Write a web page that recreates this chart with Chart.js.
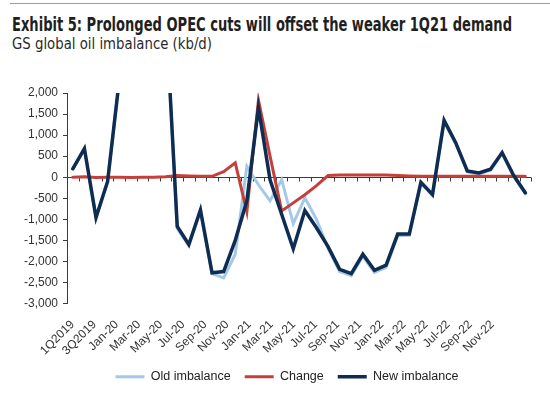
<!DOCTYPE html>
<html>
<head>
<meta charset="utf-8">
<script src="https://cdn.jsdelivr.net/npm/chart.js@4.4.1/dist/chart.umd.min.js"></script>
<style>
  html, body { margin: 0; padding: 0; background: #fff; }
  #wrap { position: relative; width: 550px; height: 396px; overflow: hidden; background: #fff; }
  #rule { position: absolute; left: 10px; top: 3px; width: 540px; height: 1px; background: #9a9a9a; }
  .ttl { position: absolute; left: 12px; white-space: nowrap; transform-origin: 0 0; display: inline-block; line-height: 1; }
  #title { top: 16px; font-family: "Liberation Sans Narrow", "Arial Narrow", "DejaVu Sans Condensed", "Liberation Sans", sans-serif; font-weight: bold; font-size: 18.6px; color: #1f1f1f; }
  #subtitle { top: 36px; font-family: "Liberation Sans Narrow", "Arial Narrow", "DejaVu Sans Condensed", "Liberation Sans", sans-serif; font-size: 16.3px; color: #2a2a2a; }
  canvas { position: absolute; left: 0; top: 0; }
</style>
</head>
<body>
<div id="wrap">
  <div id="rule"></div>
  <div id="title" class="ttl">Exhibit 5: Prolonged OPEC cuts will offset the weaker 1Q21 demand</div>
  <div id="subtitle" class="ttl">GS global oil imbalance (kb/d)</div>
  <canvas id="c" width="550" height="396"></canvas>
</div>
<script>
// ---- data ----
const categories = [
  '1Q2019','2Q2019','3Q2019','4Q2019',
  'Jan-20','Feb-20','Mar-20','Apr-20','May-20','Jun-20','Jul-20','Aug-20','Sep-20','Oct-20','Nov-20','Dec-20',
  'Jan-21','Feb-21','Mar-21','Apr-21','May-21','Jun-21','Jul-21','Aug-21','Sep-21','Oct-21','Nov-21','Dec-21',
  'Jan-22','Feb-22','Mar-22','Apr-22','May-22','Jun-22','Jul-22','Aug-22','Sep-22','Oct-22','Nov-22','Dec-22'
];
// tick labels as printed under the axis (every other category; two trailing blank slots)
const xTickLabels = [
  '1Q2019','','3Q2019','',
  'Jan-20','','Mar-20','','May-20','','Jul-20','','Sep-20','','Nov-20','',
  'Jan-21','','Mar-21','','May-21','','Jul-21','','Sep-21','','Nov-21','',
  'Jan-22','','Mar-22','','May-22','','Jul-22','','Sep-22','','Nov-22','','',''
];
const oldImbalance = [
  200, 670, -950, -100,
  2300, 4500, 9000, 14000, 3990, -1210, -1630, -800, -2290, -2390, -1830, 260,
  -180, -560, -60, -1100, -490, -1000, -1690, -2240, -2340, -1880, -2260, -2140,
  -1390, -1380, -145, -435, 1325, 795, 125, 75, 165, 560, 15, -395
];
const change = [
  0, 10, -10, 0,
  0, -10, 0, 0, 10, 40, 30, 20, 20, 130, 340, -820,
  1830, 500, -800, -610, -415, -200, 40, 50, 50, 50, 50, 50,
  40, 30, 25, 25, 25, 25, 25, 25, 25, 25, 25, 25
];
const newImbalance = [
  200, 680, -960, -100,
  2300, 4500, 9000, 14000, 4000, -1170, -1600, -780, -2270, -2240, -1500, -560,
  1650, -60, -880, -1700, -790, -1200, -1650, -2190, -2290, -1830, -2210, -2090,
  -1350, -1350, -120, -410, 1350, 820, 150, 100, 190, 585, 40, -370
];
const yTicks = [2000, 1500, 1000, 500, 0, -500, -1000, -1500, -2000, -2500, -3000];

// fit title widths
function fitWidth(id, w) {
  const el = document.getElementById(id);
  const r = el.getBoundingClientRect().width;
  el.style.transform = 'scaleX(' + (w / r) + ')';
}
fitWidth('title', 500);
fitWidth('subtitle', 200);

const AX = '#3a3a3a';
const FONT = "'Liberation Sans', Arial, sans-serif";

const zeroAxis = {
  id: 'zeroAxis',
  afterLayout(chart) {
    // nudge the legend to sit where the reference places it
    if (chart.legend) { chart.legend.left += 17; chart.legend.right += 17; }
  },
  beforeDatasetsDraw(chart) {
    const xs = chart.scales.x, ys = chart.scales.y;
    const y0 = Math.round(ys.getPixelForValue(0)) + 0.5;
    const n = categories.length;
    const w = (xs.right - xs.left) / n;
    const ctx = chart.ctx;
    ctx.save();
    ctx.strokeStyle = AX;
    ctx.lineWidth = 1;
    ctx.beginPath();
    ctx.moveTo(xs.left, y0);
    ctx.lineTo(xs.right, y0);
    for (let k = 1; k <= n; k++) {
      const x = Math.round(xs.left + k * w) + 0.5;
      ctx.moveTo(x, y0);
      ctx.lineTo(x, y0 + 4);
    }
    ctx.stroke();
    ctx.restore();
  }
};

new Chart(document.getElementById('c'), {
  type: 'line',
  data: {
    labels: categories,
    datasets: [
      { label: 'Old imbalance', data: oldImbalance, borderColor: '#a3c8e8', backgroundColor: '#a3c8e8', borderWidth: 3, borderCapStyle: 'round', borderJoinStyle: 'miter', order: 3 },
      { label: 'Change', data: change, borderColor: '#c4413b', backgroundColor: '#c4413b', borderWidth: 3, borderCapStyle: 'round', borderJoinStyle: 'miter', order: 2 },
      { label: 'New imbalance', data: newImbalance, borderColor: '#0f2d52', backgroundColor: '#0f2d52', borderWidth: 3.5, borderCapStyle: 'round', borderJoinStyle: 'miter', order: 1 }
    ]
  },
  options: {
    responsive: false,
    animation: false,
    devicePixelRatio: 1,
    layout: { padding: { top: 93, right: 10, bottom: 3, left: 0 } },
    elements: { point: { radius: 0, hoverRadius: 0 }, line: { tension: 0, fill: false } },
    plugins: {
      legend: {
        position: 'bottom',
        labels: {
          usePointStyle: true,
          pointStyle: 'line',
          pointStyleWidth: 29,
          boxHeight: 3,
          padding: 14,
          color: '#222',
          font: { family: FONT, size: 12.5 },
          sort: (a, b) => a.datasetIndex - b.datasetIndex
        }
      },
      title: { display: false },
      tooltip: { enabled: false }
    },
    scales: {
      x: {
        offset: true,
        grid: { display: false, drawTicks: false },
        border: { display: false },
        ticks: { display: false },
        afterFit: (s) => { s.height = 0; }
      },
      xLabels: {
        type: 'category',
        position: 'bottom',
        labels: xTickLabels,
        offset: true,
        grid: { display: false, drawTicks: false },
        border: { display: false },
        ticks: {
          autoSkip: false, maxRotation: 45, minRotation: 45, padding: 14,
          color: '#333', font: { family: FONT, size: 12 }
        },
        afterFit: (s) => { s.height = 53; }
      },
      y: {
        min: -3000, max: 2000,
        afterBuildTicks: (s) => { s.ticks = yTicks.map(v => ({ value: v })); },
        grid: { display: true, drawOnChartArea: false, drawTicks: true, tickLength: 4, color: AX },
        border: { display: true, color: AX },
        ticks: {
          padding: 5, color: '#333', font: { family: FONT, size: 12 },
          callback: (v) => Number(v).toLocaleString('en-US')
        },
        afterFit: (s) => { s.width = 67; }
      }
    }
  },
  plugins: [zeroAxis]
});
</script>
</body>
</html>
